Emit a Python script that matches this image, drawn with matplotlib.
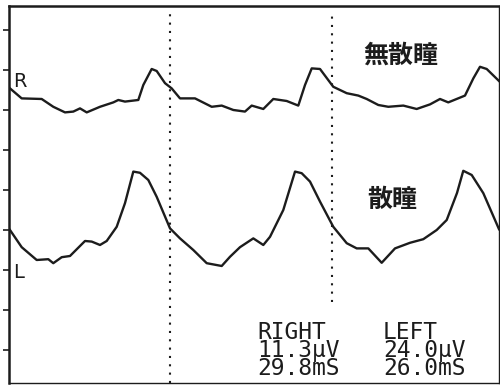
import matplotlib
matplotlib.use("Agg")
import matplotlib.pyplot as plt

# Flicker ERG traces, time in ms, amplitude in µV (10 µV per division)
right_t = [0.20, 2.59, 6.67, 9.04, 11.43, 13.12, 14.49, 15.86, 18.57, 21.29, 22.31, 23.67,
           26.39, 27.41, 29.12, 30.14, 31.84, 33.20, 34.90, 37.96, 41.37, 43.41, 45.78, 48.16,
           49.53, 51.90, 53.94, 56.67, 59.04, 60.41, 61.78, 63.47, 66.18, 68.92, 71.29, 73.00,
           75.37, 77.41, 80.47, 83.20, 85.92, 87.96, 89.65, 93.06, 94.76, 96.12, 97.49, 100.0]
right_uv = [5.4, 2.9, 2.75, 0.8, -0.6, -0.4, 0.4, -0.6, 0.8, 1.9, 2.5, 2.1,
            2.5, 6.25, 10.25, 9.75, 6.7, 5.4, 2.9, 2.9, 0.8, 1.1, 0.0, -0.4,
            1.1, 0.25, 2.75, 2.25, 1.1, 6.25, 10.4, 10.25, 5.8, 4.2, 3.6, 2.75,
            1.25, 0.8, 1.1, 0.25, 1.4, 2.75, 1.9, 3.6, 7.9, 10.8, 10.25, 7.25]

left_t = [0.20, 2.59, 5.65, 8.02, 9.04, 10.76, 12.45, 15.51, 16.88, 18.57, 19.94, 21.98,
          23.67, 25.37, 26.73, 28.43, 30.14, 32.86, 34.90, 37.61, 40.35, 43.41, 45.10, 47.14,
          49.86, 51.90, 53.27, 55.98, 58.37, 59.73, 61.43, 63.47, 66.18, 68.92, 70.96, 73.33,
          76.06, 78.78, 81.84, 84.55, 87.29, 89.33, 91.43, 92.71, 94.43, 96.80, 100.0]
left_uv = [0.0, -4.3, -7.5, -7.3, -8.3, -6.8, -6.5, -2.75, -2.9, -3.75, -2.75, 0.8,
           6.7, 14.6, 14.3, 12.5, 8.3, 0.4, -2.1, -5.0, -8.3, -9.0, -6.7, -4.3,
           -2.1, -3.75, -1.7, 5.0, 14.6, 14.2, 12.1, 7.1, 0.8, -3.3, -4.6, -4.6,
           -8.2, -4.6, -3.2, -2.3, 0.0, 2.5, 9.25, 14.8, 13.75, 9.2, 0.2]

right_offset = 70
left_offset = 40

stimulus_t = [32.86, 65.92]
stimulus_top = [94.5, 94.5]
stimulus_bottom = [1.75, 22.0]

y_ticks = [10, 20, 30, 40, 50, 60, 70, 80, 90]

result_header = ["RIGHT", "LEFT"]
result_amp = ["11.3µV", "24.0µV"]
result_time = ["29.8mS", "26.0mS"]

fig = plt.figure(figsize=(5.0, 3.86), dpi=100)
ax = fig.add_axes([0.018, 0.0078, 0.98, 0.9767])
ax.set_xlim(0, 100)
ax.set_ylim(1.75, 96)

ink = "#1c1c1c"
ax.plot(right_t, [v + right_offset for v in right_uv], color=ink, lw=1.7,
        solid_joinstyle="round")
ax.plot(left_t, [v + left_offset for v in left_uv], color=ink, lw=1.7,
        solid_joinstyle="round")

for t, top, bot in zip(stimulus_t, stimulus_top, stimulus_bottom):
    ax.plot([t, t], [bot, top], color=ink, lw=1.5, linestyle=(0, (1, 3)))

ax.set_yticks(y_ticks)
ax.set_yticklabels([])
ax.set_xticks([])
ax.tick_params(axis="y", direction="out", length=4, width=1.2, color=ink)
for side, lw in [("left", 1.8), ("top", 1.8), ("bottom", 1.0), ("right", 1.0)]:
    ax.spines[side].set_linewidth(lw)
    ax.spines[side].set_color(ink)

ax.text(0.8, 75.75, "R", fontsize=14, color=ink, ha="left", va="baseline")
ax.text(0.8, 28.0, "L", fontsize=14, color=ink, ha="left", va="baseline")

cjk = ["Noto Sans CJK JP", "DejaVu Sans"]
ax.text(80.0, 83.5, "無散瞳", fontsize=18, family=cjk, weight="bold",
        color=ink, ha="center", va="center")
ax.text(78.2, 47.5, "散瞳", fontsize=18, family=cjk, weight="bold",
        color=ink, ha="center", va="center")

# Result block: one column per eye, header / amplitude / implicit time
for x0, hdr, amp, tm in zip([50.6, 76.3], result_header, result_amp, result_time):
    ax.text(x0, 3.75, "\n".join([hdr, amp, tm]), fontsize=16.5,
            family="DejaVu Sans Mono", color=ink, ha="left", va="baseline",
            linespacing=0.72)

fig.savefig("out.png", dpi=100)
